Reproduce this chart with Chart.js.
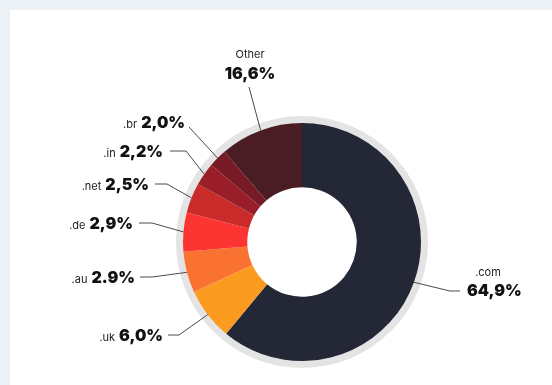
<!DOCTYPE html>
<html lang="en">
	<head>
		<meta charset="UTF-8" />
		<meta name="viewport" content="width=device-width, initial-scale=1.0" />
		<script src="https://cdn.jsdelivr.net/npm/chart.js@4"></script>
		<style>
			html, body { margin: 0; padding: 0; background: #ecf1f5; }
			#panel { position: absolute; left: 10px; top: 10px; width: 542px; height: 375px; background: #ffffff; }
		</style>
	</head>

	<body>
		<div id="panel"><canvas id="myChart"></canvas></div>

		<script>
			// domains, slice sizes as drawn, and the printed share labels
			const domains = ['.com', '.uk', '.au', '.de', '.net', '.in', '.br', 'Other'];
			const shares = [61.0, 7.1, 5.6, 5.3, 4.1, 3.1, 2.5, 11.3];
			const shareLabels = ['64,9%', '6,0%', '2.9%', '2,9%', '2,5%', '2,2%', '2,0%', '16,6%'];
			const colors = ['#232736', '#fb9b20', '#f97232', '#fc3532', '#c92a2a', '#9a1e2a', '#781a25', '#4a1c24'];

			// callout layout, offsets from the doughnut centre (px)
			const callouts = [
				{ elbow: [148, 49], end: 158, side: 'right', nameAt: [186, 34], valueAt: [165, 54] },
				{ elbow: [-123, 93], end: -134, side: 'left', textRight: -139, base: 99 },
				{ elbow: [-150, 35], end: -162, side: 'left', textRight: -167, base: 41 },
				{ elbow: [-150, -19], end: -163, side: 'left', textRight: -169, base: -13 },
				{ elbow: [-135, -58], end: -147, side: 'left', textRight: -153, base: -52 },
				{ elbow: [-116, -91], end: -132, side: 'left', textRight: -139, base: -85 },
				{ elbow: [-113, -115], end: -113, side: 'left', textRight: -117, base: -114 },
				{ elbow: [-53, -155], end: -53, side: 'top', nameAt: [-52, -184], valueAt: [-52, -163] },
			];

			const FONT = 'Inter, "Open Sans", sans-serif';
			const BOLD = '900 16px ' + FONT;
			const SMALL = '400 11px ' + FONT;

			// light grey band around the doughnut
			const ringPlugin = {
				id: 'ring',
				beforeDatasetsDraw(chart) {
					const arc = chart.getDatasetMeta(0).data[0];
					const ctx = chart.ctx;
					ctx.save();
					ctx.beginPath();
					ctx.arc(arc.x, arc.y, arc.outerRadius + 7, 0, Math.PI * 2);
					ctx.arc(arc.x, arc.y, arc.outerRadius - 2, 0, Math.PI * 2, true);
					ctx.fillStyle = '#e4e4e4';
					ctx.fill();
					ctx.restore();
				},
			};

			const calloutPlugin = {
				id: 'callouts',
				afterDatasetsDraw(chart) {
					const ctx = chart.ctx;
					const arcs = chart.getDatasetMeta(0).data;
					ctx.save();
					arcs.forEach((arc, i) => {
						const c = callouts[i];
						const cx = arc.x, cy = arc.y;
						const mid = (arc.startAngle + arc.endAngle) / 2;
						const sx = cx + Math.cos(mid) * arc.outerRadius;
						const sy = cy + Math.sin(mid) * arc.outerRadius;
						ctx.beginPath();
						ctx.moveTo(sx, sy);
						ctx.lineTo(cx + c.elbow[0], cy + c.elbow[1]);
						ctx.lineTo(cx + c.end, cy + c.elbow[1]);
						ctx.strokeStyle = '#4a4a4a';
						ctx.lineWidth = 1;
						ctx.stroke();

						ctx.textBaseline = 'alphabetic';
						if (c.side === 'left') {
							ctx.font = BOLD;
							ctx.fillStyle = '#111111';
							ctx.textAlign = 'right';
							const w = ctx.measureText(shareLabels[i]).width;
							ctx.fillText(shareLabels[i], cx + c.textRight, cy + c.base);
							ctx.font = SMALL;
							ctx.fillStyle = '#222222';
							ctx.fillText(domains[i], cx + c.textRight - w - 4, cy + c.base);
						} else {
							ctx.font = SMALL;
							ctx.fillStyle = '#222222';
							ctx.textAlign = 'center';
							ctx.fillText(domains[i], cx + c.nameAt[0], cy + c.nameAt[1]);
							ctx.font = BOLD;
							ctx.fillStyle = '#111111';
							ctx.textAlign = c.side === 'right' ? 'left' : 'center';
							ctx.fillText(shareLabels[i], cx + c.valueAt[0], cy + c.valueAt[1]);
						}
					});
					ctx.restore();
				},
			};

			const ctx = document.getElementById('myChart').getContext('2d');
			const myChart = new Chart(ctx, {
				type: 'doughnut',
				data: {
					labels: domains,
					datasets: [
						{
							data: shares,
							backgroundColor: colors,
							borderWidth: 0,
							offset: 0,
							hoverOffset: 0,
						},
					],
				},
				options: {
					responsive: true,
					maintainAspectRatio: false,
					animation: false,
					cutout: '46%',
					layout: { padding: { left: 42, right: 0, top: 113, bottom: 24 } },
					plugins: {
						legend: { display: false },
						tooltip: { enabled: false },
					},
					events: [],
				},
				plugins: [ringPlugin, calloutPlugin],
			});
		</script>
	</body>
</html>
